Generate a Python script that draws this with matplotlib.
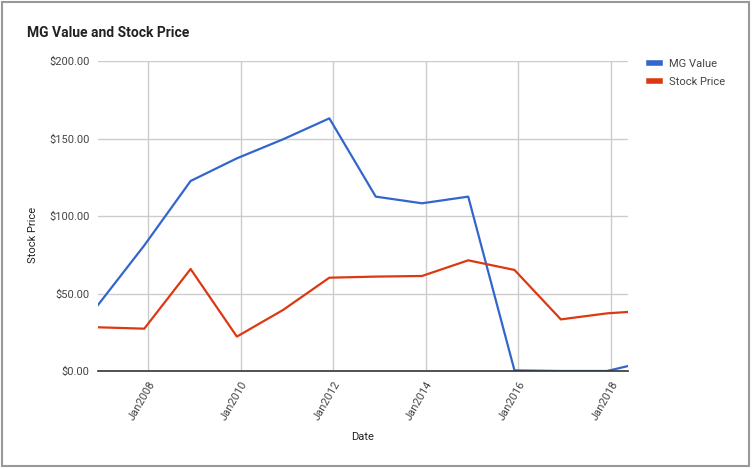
import numpy as np
import pandas as pd
import matplotlib
matplotlib.use('Agg')
import matplotlib.pyplot as plt
from matplotlib.patches import Rectangle
from matplotlib.ticker import FuncFormatter, MultipleLocator

# Data (yearly points, roughly at year end)
dates = pd.to_datetime(['2006-12-01', '2007-12-01', '2008-12-01', '2009-12-01',
                        '2010-12-01', '2011-12-01', '2012-12-01', '2013-12-01',
                        '2014-12-01', '2015-12-01', '2016-12-01', '2017-12-01',
                        '2018-05-15'])
mg_value = [42.6, 81.0, 122.6, 137.2, 149.5, 163.0, 112.5, 108.2,
            112.5, 0.4, 0.0, 0.0, 3.2]
stock_price = [28.2, 27.3, 65.8, 22.2, 39.4, 60.2, 60.9, 61.3,
               71.4, 65.2, 33.3, 37.2, 38.1]
tick_years = [2008, 2010, 2012, 2014, 2016, 2018]

plt.rcParams['font.family'] = ['Roboto', 'DejaVu Sans']

fig = plt.figure(figsize=(7.53, 4.69), dpi=100)
ax = fig.add_axes([98 / 753, 1 - 371 / 469, 530 / 753, 310 / 469])

ax.plot(dates, mg_value, color='#3366cc', lw=1.6, label='MG Value', zorder=3)
ax.plot(dates, stock_price, color='#dc3912', lw=1.6, label='Stock Price', zorder=3)

ax.set_xlim(dates[0], dates[-1])
ax.set_ylim(0, 200)
ax.yaxis.set_major_locator(MultipleLocator(50))
ax.yaxis.set_major_formatter(FuncFormatter(lambda v, p: '${:,.2f}'.format(v)))

ticks = [pd.Timestamp(f'{y}-01-01') for y in tick_years]
ax.set_xticks(ticks)
ax.set_xticklabels([f'Jan{y}' for y in tick_years], rotation=60,
                   ha='right', rotation_mode='anchor')

ax.grid(True, color='#cccccc', lw=1)
ax.set_axisbelow(True)
for s in ['top', 'right', 'left']:
    ax.spines[s].set_visible(False)
ax.spines['bottom'].set_color('#333333')
ax.spines['bottom'].set_linewidth(1.2)
ax.spines['bottom'].set_zorder(4)
ax.tick_params(length=0, labelsize=8, labelcolor='#444444', pad=6)

ax.set_xlabel('Date', fontsize=8, color='#222222', labelpad=7)
ax.set_ylabel('Stock Price', fontsize=8, color='#222222')
ax.yaxis.set_label_coords(-60 / 530, 0.44)

fig.text(27 / 753, 1 - 33 / 469, 'MG Value and Stock Price', fontsize=10,
         fontweight='bold', color='#222222', va='center', ha='left')

leg = ax.legend(loc='upper left', bbox_to_anchor=(1.02, 1.04), frameon=False,
                fontsize=8, handlelength=1.0, handleheight=0.5,
                labelspacing=0.75, handletextpad=0.8)
for line in leg.get_lines():
    line.set_linewidth(4)
for t in leg.get_texts():
    t.set_color('#444444')

# outer frame of the chart
fig.patches.append(Rectangle((2 / 753, 3 / 469), 747 / 753, 464 / 469,
                             transform=fig.transFigure, fill=False,
                             edgecolor='#999999', lw=1.5))

fig.savefig('out.png', dpi=100)
